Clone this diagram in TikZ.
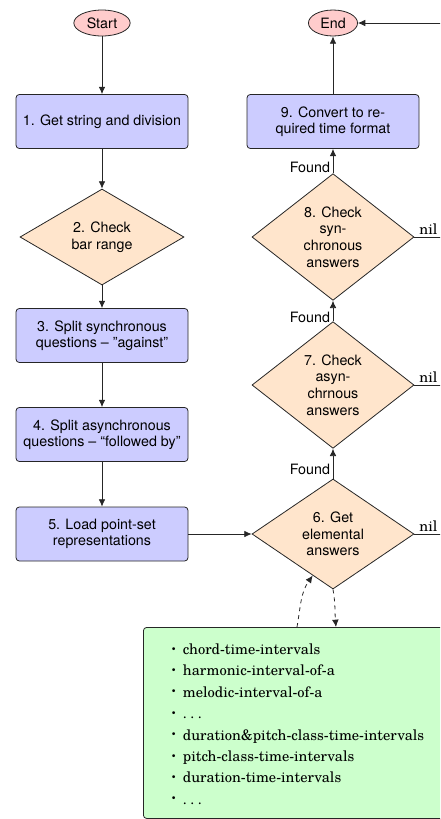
\documentclass[tikz,border=0pt]{standalone}
\usepackage{fontspec}
\setsansfont{TeX Gyre Heros}
\newfontfamily\schfont{TeX Gyre Schola}
\usetikzlibrary{shapes.geometric,arrows.meta,calc}
\newcommand\smbul{\makebox[11pt][l]{\hspace{2.2pt}\raisebox{0.35ex}{\fontsize{6.5}{6.5}\selectfont\textbullet}}}
\newcommand\dotsx{.\hspace{2.6pt}.\hspace{2.6pt}.}
\begin{document}
\begin{tikzpicture}[x=0.75pt,y=-0.75pt,
  font=\sffamily\fontsize{10.7}{12.4}\selectfont,
  line/.style={draw=black!85, line width=0.6pt},
  arr/.style={line, -{Latex[length=5.5pt,width=5pt]}},
  term/.style={ellipse, draw=black!85, line width=0.6pt, fill=red!20, minimum height=19.5pt, inner xsep=3.5pt, inner ysep=0.5pt},
  proc/.style={rectangle, rounded corners=2.5pt, draw=black!85, line width=0.6pt, fill=blue!20, minimum width=129pt, minimum height=40.5pt, align=center, inner sep=2pt},
  dec/.style={diamond, draw=black!85, line width=0.6pt, fill=orange!20, align=center, inner sep=0pt, minimum width=121.5pt},
  foundlab/.style={left, inner sep=2pt},
  nillab/.style={font=\schfont\fontsize{10.9}{12}\selectfont, above, inner sep=1.5pt},
  greenbox/.style={rectangle, rounded corners=2.5pt, draw=black!85, line width=0.6pt, fill=green!20, minimum width=230pt, minimum height=143.3pt, inner sep=0pt}
]
\useasboundingbox (0,0) rectangle (440,819);
\clip (0,0) rectangle (440,819);
% left column
\node[term] (start) at (102,23) {Start};
\node[proc] (b1) at (102,121.5) {1. Get string and division};
\node[dec, minimum width=123pt, minimum height=72pt] (d2) at (102,237) {2. Check\\bar range};
\node[proc] (b3) at (102,335.5) {3. Split synchronous\\questions -- ''against''};
\node[proc] (b4) at (102,434.5) {4. Split asynchronous\\questions -- ``followed by''};
\node[proc] (b5) at (102,534) {5. Load point-set\\representations};
% right column
\node[dec, minimum height=82.5pt] (d6) at (333,534) {6. Get\\elemental\\answers};
\node[dec, minimum height=95pt] (d7) at (333,385) {7. Check\\asyn-\\chrnous\\answers};
\node[dec, minimum height=95pt] (d8) at (333,237) {8. Check\\syn-\\chronous\\answers};
\node[proc] (b9) at (333,121.5) {9. Convert to re-\\quired time format};
\node[term] (end) at (333,23) {End};
\coordinate (rt) at (448,23);
% green box
\node[greenbox, anchor=north west] (green) at (143,627) {};
\node[anchor=north west, inner sep=0pt, align=left, font=\schfont\fontsize{10.9}{16.05}\selectfont] (list) at (168,643.5) {%
\smbul chord-time-intervals\\
\smbul harmonic-interval-of-a\\
\smbul melodic-interval-of-a\\
\smbul\dotsx\\
\smbul duration\&pitch-class-time-intervals\\
\smbul pitch-class-time-intervals\\
\smbul duration-time-intervals\\
\smbul\dotsx};
% connectors left
\draw[arr] (start) -- (b1);
\draw[arr] (b1) -- (d2);
\draw[arr] (d2) -- (b3);
\draw[arr] (b3) -- (b4);
\draw[arr] (b4) -- (b5);
\draw[arr] (b5) -- (d6);
% connectors right
\draw[arr] (d6) -- node[foundlab, pos=0.3]{Found} (d7);
\draw[arr] (d7) -- node[foundlab, pos=0.2]{Found} (d8);
\draw[arr] (d8) -- node[foundlab, pos=0.25]{Found} (b9);
\draw[arr] (b9) -- (end);
\draw[line] (d8.east) -- node[nillab, pos=0.42]{nil} (d8.east -| rt);
\draw[line] (d7.east) -- node[nillab, pos=0.42]{nil} (d7.east -| rt);
\draw[arr] (d6.east) -- node[nillab, pos=0.42]{nil} (d6.east -| rt) |- (end.east);
% dashed
\draw[arr, dashed] ($(green.north west)+(154,0)$) to[out=80,in=235] ($(d6.south)!0.25!(d6.west)$);
\draw[arr, dashed] (d6.south) to[out=-80,in=95] ($(green.north west)+(193,0)$);
\end{tikzpicture}
\end{document}
